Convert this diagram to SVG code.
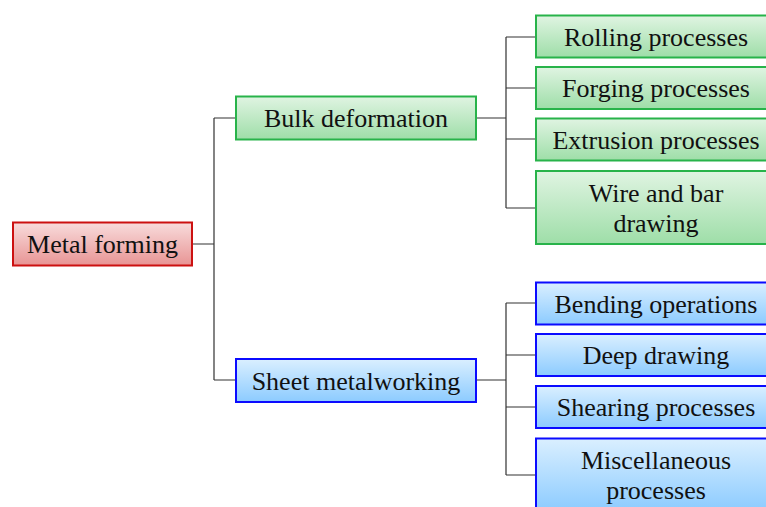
<svg xmlns="http://www.w3.org/2000/svg" width="766" height="507" viewBox="0 0 766 507">
<defs>
<linearGradient id="gRed" x1="0" y1="0" x2="0" y2="1"><stop offset="0" stop-color="#f8dcdc"/><stop offset="1" stop-color="#e89494"/></linearGradient>
<linearGradient id="gGreen" x1="0" y1="0" x2="0" y2="1"><stop offset="0" stop-color="#e0f4e2"/><stop offset="1" stop-color="#9edea8"/></linearGradient>
<linearGradient id="gBlue" x1="0" y1="0" x2="0" y2="1"><stop offset="0" stop-color="#daefff"/><stop offset="1" stop-color="#8ccbff"/></linearGradient>
</defs>
<style>
.red{fill:url(#gRed);stroke:#cc1111;stroke-width:2}
.green{fill:url(#gGreen);stroke:#28b34a;stroke-width:2}
.blue{fill:url(#gBlue);stroke:#0b0bff;stroke-width:2}
text{font-family:"Liberation Serif","Times New Roman",serif;font-size:26px;fill:#111;text-anchor:middle}
.conn{fill:none;stroke:#333;stroke-width:1.2}
</style>
<g id="connectors" class="conn">
<path d="M193,244 H214 M214,118 V380 M214,118 H236 M214,380 H236"/>
<path d="M476,118 H506 M506,37 V208 M506,37 H536 M506,88 H536 M506,139 H536 M506,208 H536"/>
<path d="M476,380 H506 M506,303 V475 M506,303 H536 M506,355 H536 M506,407 H536 M506,475 H536"/>
</g>
<g id="metal-forming"><rect class="red" x="13" y="222.5" width="179" height="43"/><text x="102.5" y="253">Metal forming</text></g>
<g id="bulk-deformation"><rect class="green" x="236" y="96.5" width="240" height="43"/><text x="356" y="127">Bulk deformation</text></g>
<g id="sheet-metalworking"><rect class="blue" x="236" y="359" width="240" height="43"/><text x="356" y="389.5">Sheet metalworking</text></g>
<g id="rolling"><rect class="green" x="536" y="15.5" width="240" height="42"/><text x="656" y="45.5">Rolling processes</text></g>
<g id="forging"><rect class="green" x="536" y="67" width="240" height="42"/><text x="656" y="97">Forging processes</text></g>
<g id="extrusion"><rect class="green" x="536" y="118.5" width="240" height="42"/><text x="656" y="148.5">Extrusion processes</text></g>
<g id="wire"><rect class="green" x="536" y="171" width="240" height="73"/><text x="656" y="201.5">Wire and bar</text><text x="656" y="231.5">drawing</text></g>
<g id="bending"><rect class="blue" x="536" y="282.5" width="240" height="42"/><text x="656" y="312.5">Bending operations</text></g>
<g id="deep"><rect class="blue" x="536" y="334" width="240" height="42"/><text x="656" y="364">Deep drawing</text></g>
<g id="shearing"><rect class="blue" x="536" y="386" width="240" height="42"/><text x="656" y="416">Shearing processes</text></g>
<g id="misc"><rect class="blue" x="536" y="438.5" width="240" height="73"/><text x="656" y="468.5">Miscellaneous</text><text x="656" y="498.5">processes</text></g>
</svg>
